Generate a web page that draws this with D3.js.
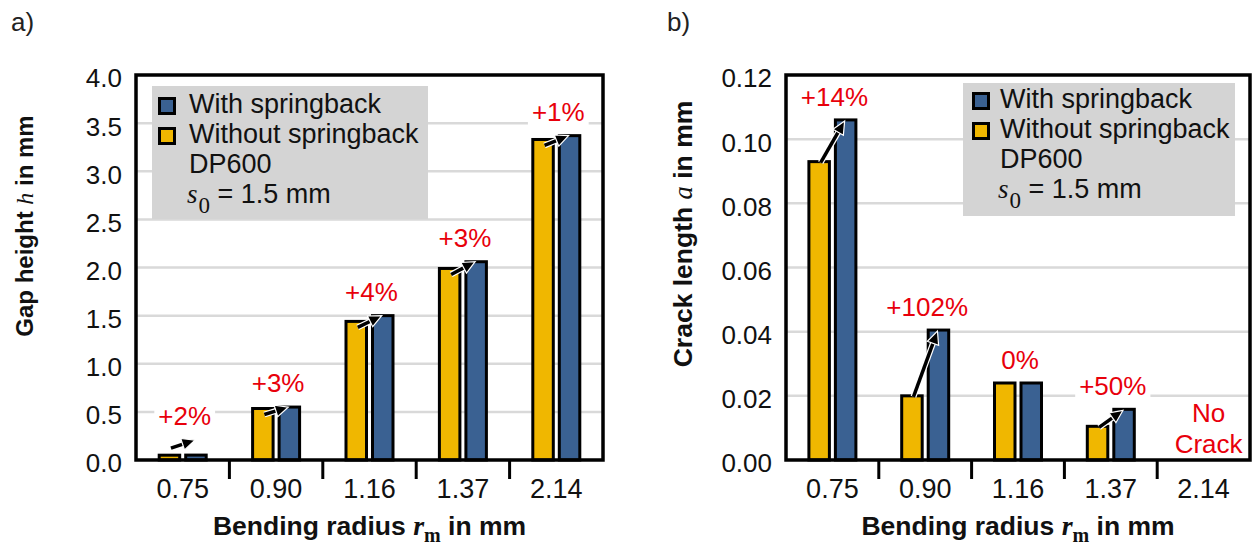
<!DOCTYPE html>
<html>
<head>
<meta charset="utf-8">
<script src="https://cdn.jsdelivr.net/npm/d3@7/dist/d3.min.js"></script>
<style>
  html, body { margin: 0; padding: 0; background: #fff; }
  svg { display: block; }
  text { font-family: "Liberation Sans", Arial, sans-serif; }
</style>
</head>
<body>
<svg id="chart" width="1254" height="546"></svg>
<script>
// ---------------- DATA ----------------
const categories = ["0.75", "0.90", "1.16", "1.37", "2.14"];

// a) Gap height h in mm
const gapWithout = [0.05, 0.535, 1.44, 1.99, 3.33];
const gapWith    = [0.051, 0.55, 1.50, 2.06, 3.37];
const gapLabels  = ["+2%", "+3%", "+4%", "+3%", "+1%"];
const gapTicks   = [0, 0.5, 1.0, 1.5, 2.0, 2.5, 3.0, 3.5, 4.0];

// b) Crack length a in mm (null = no crack)
const crackWithout = [0.093, 0.020, 0.024, 0.0105, null];
const crackWith    = [0.106, 0.0405, 0.024, 0.0158, null];
const crackLabels  = ["+14%", "+102%", "0%", "+50%", "No Crack"];
const crackTicks   = [0, 0.02, 0.04, 0.06, 0.08, 0.10, 0.12];

const legendLabels = ["With springback", "Without springback"];
const materialLabel = "DP600";

// ---------------- STYLE ----------------
const YELLOW = "#f0b700";
const BLUE = "#3a6192";
const RED = "#e8000b";
const GRID = "#d9d9d9";
const LEGBG = "#d4d4d4";

const svg = d3.select("#chart");

function drawPanel(cfg) {
  const g = svg.append("g");
  const x = d3.scaleBand().domain(categories).range([cfg.x0, cfg.x1]);
  const y = d3.scaleLinear().domain([0, cfg.ymax]).range([cfg.y1, cfg.y0]);

  // panel letter
  g.append("text").attr("x", cfg.letterX).attr("y", 31)
    .attr("font-size", 26).attr("fill", "#222").text(cfg.letter);

  // gridlines
  g.selectAll(".grid").data(cfg.ticks.filter(t => t > 0 && t < cfg.ymax))
    .join("line")
    .attr("x1", cfg.x0).attr("x2", cfg.x1)
    .attr("y1", d => y(d)).attr("y2", d => y(d))
    .attr("stroke", GRID).attr("stroke-width", 2.5);

  // y axis labels (no tick marks)
  const yAxis = d3.axisLeft(y).tickValues(cfg.ticks).tickFormat(d3.format(cfg.fmt)).tickSize(0).tickPadding(0);
  const ya = g.append("g").attr("transform", `translate(${cfg.x0 - 14},0)`).call(yAxis);
  ya.select(".domain").remove();
  ya.selectAll("text").attr("font-size", 26).attr("fill", "#111")
    .attr("font-family", "'Liberation Sans', Arial, sans-serif")
    .attr("dy", "0.46em");

  // legend box
  const lb = cfg.legend;
  g.append("rect").attr("x", lb.x).attr("y", lb.y).attr("width", lb.w).attr("height", lb.h)
    .attr("fill", LEGBG);
  const legColors = [BLUE, YELLOW];
  legendLabels.forEach((lab, i) => {
    g.append("rect")
      .attr("x", lb.x + lb.sq + 1.5).attr("y", lb.y + lb.sqy + 1.5 + i * 30)
      .attr("width", 15).attr("height", 15)
      .attr("fill", legColors[i]).attr("stroke", "#000").attr("stroke-width", 3);
    g.append("text").attr("x", lb.x + 37).attr("y", lb.y + lb.base + i * 30)
      .attr("font-size", 27).attr("fill", "#111").text(lab);
  });
  g.append("text").attr("x", lb.x + 37).attr("y", lb.y + lb.base + 60)
    .attr("font-size", 27).attr("fill", "#111").text(materialLabel);
  const s0 = g.append("text").attr("x", lb.x + 35).attr("y", lb.y + lb.base + 90)
    .attr("font-size", 27).attr("fill", "#111");
  s0.append("tspan").attr("font-family", "'Liberation Serif', 'Times New Roman', serif")
    .attr("font-style", "italic").text("s");
  s0.append("tspan").attr("font-family", "'Liberation Serif', 'Times New Roman', serif")
    .attr("font-size", 23).attr("dy", 10).attr("dx", 1).text("0");
  s0.append("tspan").attr("dy", -10).text(" = 1.5 mm");

  // bars
  const barW = 23.5, gap = 3;
  const inner = barW - 3;
  const xc = c => x(c) + x.bandwidth() / 2;
  const yelX = c => xc(c) - gap / 2 - barW;
  const bluX = c => xc(c) + gap / 2;

  categories.forEach((c, i) => {
    const vy = cfg.without[i], vb = cfg.with[i];
    if (vy == null) return;
    [[vy, yelX(c), YELLOW], [vb, bluX(c), BLUE]].forEach(([v, bx, col]) => {
      g.append("rect")
        .attr("x", bx + 1.5).attr("y", y(v))
        .attr("width", inner).attr("height", Math.max(0, y(0) - y(v)))
        .attr("fill", col).attr("stroke", "#000").attr("stroke-width", 3);
    });
  });

  // frame
  g.append("rect").attr("x", cfg.x0).attr("y", cfg.y0)
    .attr("width", cfg.x1 - cfg.x0).attr("height", cfg.y1 - cfg.y0)
    .attr("fill", "none").attr("stroke", "#000").attr("stroke-width", 3.5);

  // x ticks between categories
  const bounds = categories.slice(1).map(c => x(c));
  g.selectAll(".xt").data(bounds).join("line")
    .attr("x1", d => d).attr("x2", d => d)
    .attr("y1", cfg.y1).attr("y2", cfg.y1 + 19)
    .attr("stroke", "#000").attr("stroke-width", 3);
  // x tick labels
  g.selectAll(".xl").data(categories).join("text")
    .attr("x", c => xc(c)).attr("y", 498)
    .attr("text-anchor", "middle").attr("font-size", 27).attr("fill", "#111")
    .text(c => c);

  // arrows + labels
  categories.forEach((c, i) => {
    const vy = cfg.without[i], vb = cfg.with[i];
    const lab = cfg.labels[i];
    if (vy == null) {
      // "No Crack"
      const words = lab.split(" ");
      words.forEach((w, k) => {
        g.append("text").attr("x", xc(c) + 5).attr("y", y(0) - 38 + k * 31)
          .attr("text-anchor", "middle").attr("font-size", 26).attr("fill", RED).text(w);
      });
      return;
    }
    const x1a = yelX(c) + barW / 2 + 1.5, x2a = bluX(c) + barW / 2 - 1;
    let y1a = y(vy) + cfg.arrowStart, y2a = y(vb) + cfg.arrowEnd;
    let topRef = Math.min(y(vy), y(vb));
    if (vy !== vb) {
      if (y(0) - topRef < 15) {
        // bars too short for an arrow between them: draw it above
        y1a = topRef - 7; y2a = topRef - 15;
      }
      drawArrow(g, x1a, y1a, x2a, y2a);
      topRef = Math.min(topRef, y2a);
    }
    const lx = xc(c) + cfg.labelDx, ly = topRef - cfg.labelGap;
    const t = g.append("text").attr("x", lx).attr("y", ly)
      .attr("text-anchor", "middle").attr("font-size", 26).attr("fill", RED).text(lab);
    const bb = t.node().getBBox();
    g.insert("rect", () => t.node())
      .attr("x", bb.x - 4).attr("y", bb.y + 2).attr("width", bb.width + 8).attr("height", bb.height - 2)
      .attr("fill", "#fff");
  });

  // axis titles
  const xt = g.append("text").attr("x", (cfg.x0 + cfg.x1) / 2).attr("y", 535)
    .attr("text-anchor", "middle").attr("font-size", 26.5).attr("font-weight", "bold").attr("fill", "#111");
  xt.append("tspan").text("Bending radius ");
  xt.append("tspan").attr("font-family", "'Liberation Serif', 'Times New Roman', serif")
    .attr("font-style", "italic").attr("font-size", 28).text("r");
  xt.append("tspan").attr("font-family", "'Liberation Serif', 'Times New Roman', serif")
    .attr("font-size", 20).attr("dy", 7).text("m");
  xt.append("tspan").attr("dy", -7).text(" in mm");

  const yt = g.append("text")
    .attr("transform", `translate(${cfg.ytX},${cfg.ytY}) rotate(-90)`)
    .attr("text-anchor", "middle").attr("font-size", cfg.ytSize).attr("font-weight", "bold").attr("fill", "#111");
  yt.append("tspan").text(cfg.ytitle[0]);
  yt.append("tspan").attr("font-family", "'Liberation Serif', 'Times New Roman', serif")
    .attr("font-style", "italic").attr("font-weight", "normal").text(cfg.ytitle[1]);
  yt.append("tspan").text(cfg.ytitle[2]);
}

function drawArrow(g, x1, y1, x2, y2) {
  const ang = Math.atan2(y2 - y1, x2 - x1);
  const L = 13, W = 6;
  const bx = x2 - L * Math.cos(ang), by = y2 - L * Math.sin(ang);
  const px = -Math.sin(ang) * W, py = Math.cos(ang) * W;
  g.append("line").attr("x1", x1).attr("y1", y1).attr("x2", bx).attr("y2", by)
    .attr("stroke", "#fff").attr("stroke-width", 6);
  g.append("line").attr("x1", x1).attr("y1", y1).attr("x2", bx + 2 * Math.cos(ang)).attr("y2", by + 2 * Math.sin(ang))
    .attr("stroke", "#000").attr("stroke-width", 3.5);
  g.append("path")
    .attr("d", `M${x2},${y2} L${bx + px},${by + py} L${bx - px},${by - py} Z`)
    .attr("fill", "#000").attr("stroke", "#fff").attr("stroke-width", 1.2);
}

drawPanel({
  letter: "a)", letterX: 11,
  x0: 136, x1: 603, y0: 75, y1: 460, ymax: 4.0,
  ticks: gapTicks, fmt: ".1f",
  without: gapWithout, with: gapWith, labels: gapLabels,
  arrowStart: 6, arrowEnd: 0, labelDx: 2, labelGap: 15,
  legend: { x: 152, y: 86, w: 276, h: 133, sq: 6, sqy: 11, base: 27 },
  ytitle: ["Gap height ", "h", " in mm"], ytX: 33, ytY: 226, ytSize: 24
});

drawPanel({
  letter: "b)", letterX: 667,
  x0: 786, x1: 1250, y0: 75, y1: 460, ymax: 0.12,
  ticks: crackTicks, fmt: ".2f",
  without: crackWithout, with: crackWith, labels: crackLabels,
  arrowStart: 1, arrowEnd: 1, labelDx: 2, labelGap: 14,
  legend: { x: 963, y: 83, w: 272, h: 133, sq: 9, sqy: 9, base: 25 },
  ytitle: ["Crack length ", "a", " in mm"], ytX: 692, ytY: 234, ytSize: 26.5
});
</script>
</body>
</html>
